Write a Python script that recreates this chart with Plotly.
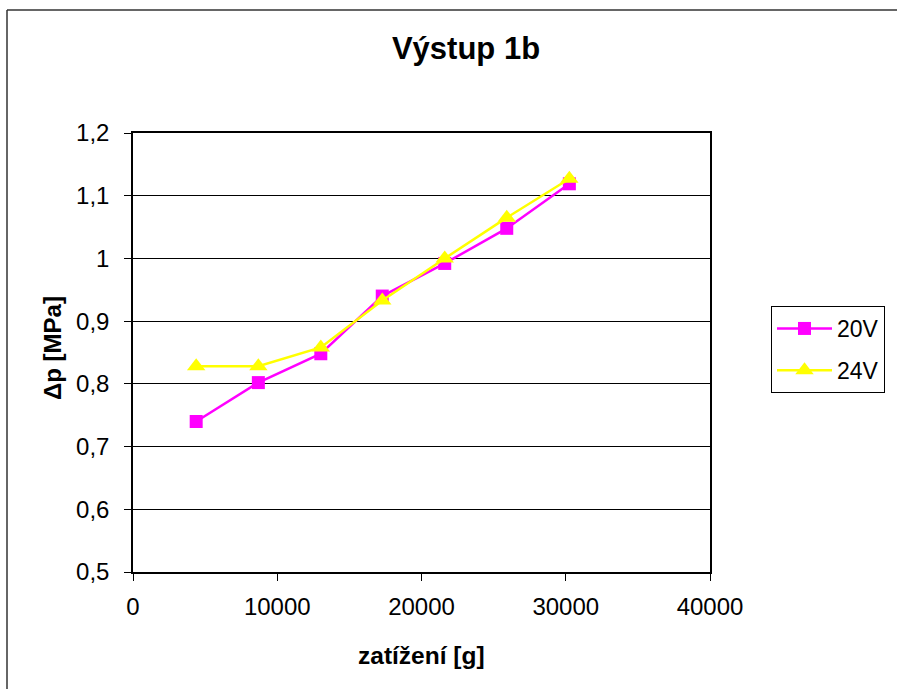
import plotly.graph_objects as go

# Measured load (g) and pressure drop (MPa) for two supply voltages
load_20v = [4380, 8690, 13020, 17280, 21610, 25910, 30250]
dp_20v = [0.740, 0.802, 0.848, 0.940, 0.992, 1.048, 1.119]

load_24v = [4380, 8690, 13020, 17280, 21610, 25910, 30250]
dp_24v = [0.828, 0.828, 0.858, 0.933, 1.000, 1.065, 1.127]

x_ticks = [0, 10000, 20000, 30000, 40000]
x_tick_labels = ["0", "10000", "20000", "30000", "40000"]
y_ticks = [0.5, 0.6, 0.7, 0.8, 0.9, 1.0, 1.1, 1.2]
y_tick_labels = ["0,5", "0,6", "0,7", "0,8", "0,9", "1", "1,1", "1,2"]

FONT = "Liberation Sans, Arial, sans-serif"

# plot-area pixel geometry, used to place the outer frame in paper units
L, R, T, B = 133, 710, 133, 572
W, H = R - L, B - T


def px_x(p):
    return (p - L) / W


def px_y(p):
    return (B - p) / H


fig = go.Figure()
fig.add_trace(go.Scatter(
    x=load_20v, y=dp_20v, name="20V", mode="lines+markers", legendgroup="a",
    line=dict(color="#FF00FF", width=2.5),
    marker=dict(symbol="square", size=13, color="#FF00FF"),
))
fig.add_trace(go.Scatter(
    x=load_24v, y=dp_24v, name="24V", mode="lines+markers", legendgroup="b",
    line=dict(color="#FFFF00", width=2.5),
    marker=dict(symbol="triangle-up", size=16, color="#FFFF00"),
))

fig.update_layout(
    width=897, height=689,
    margin=dict(l=L, r=897 - R, t=T, b=689 - B),
    paper_bgcolor="white", plot_bgcolor="white",
    font=dict(family=FONT, size=23, color="black"),
    title=dict(text="<b>Výstup 1b</b>", x=466 / 897, xanchor="center",
               y=1 - 48 / 689, yanchor="middle", yref="container",
               font=dict(size=31, family=FONT)),
    showlegend=True,
    legend=dict(x=px_x(771), y=px_y(306), xanchor="left", yanchor="top",
                bordercolor="black", borderwidth=1, bgcolor="white",
                itemwidth=55, tracegroupgap=9,
                font=dict(size=23, family=FONT)),
    xaxis=dict(range=[0, 40000], tickvals=x_ticks, ticktext=x_tick_labels,
               showgrid=False, zeroline=False,
               showline=True, linecolor="black", linewidth=1.5, mirror=True,
               ticks="outside", ticklen=7, tickcolor="black", tickwidth=1,
               ticklabelstandoff=5, tickfont=dict(size=24)),
    yaxis=dict(range=[0.5, 1.2], tickvals=y_ticks, ticktext=y_tick_labels,
               showgrid=True, gridcolor="black", gridwidth=1, zeroline=False,
               showline=True, linecolor="black", linewidth=1.5, mirror=True,
               ticks="outside", ticklen=7, tickcolor="black", tickwidth=1,
               ticklabelstandoff=10, tickfont=dict(size=24)),
    annotations=[
        dict(text="<b>zatížení [g]</b>", x=0.5, y=px_y(655), xref="paper", yref="paper",
             xanchor="center", yanchor="middle", showarrow=False,
             font=dict(size=24.5, family=FONT)),
        dict(text="<b>Δp [MPa]</b>", x=px_x(52), y=px_y(348), xref="paper", yref="paper",
             xanchor="center", yanchor="middle", showarrow=False, textangle=-90,
             font=dict(size=24, family=FONT)),
    ],
    shapes=[
        # outer chart frame: top and left edges
        dict(type="line", xref="paper", yref="paper",
             x0=px_x(7), x1=px_x(897), y0=px_y(10), y1=px_y(10),
             line=dict(color="#333333", width=1.5)),
        dict(type="line", xref="paper", yref="paper",
             x0=px_x(7), x1=px_x(7), y0=px_y(10), y1=px_y(689),
             line=dict(color="#333333", width=1.5)),
    ],
)

fig.write_html("out.html")
